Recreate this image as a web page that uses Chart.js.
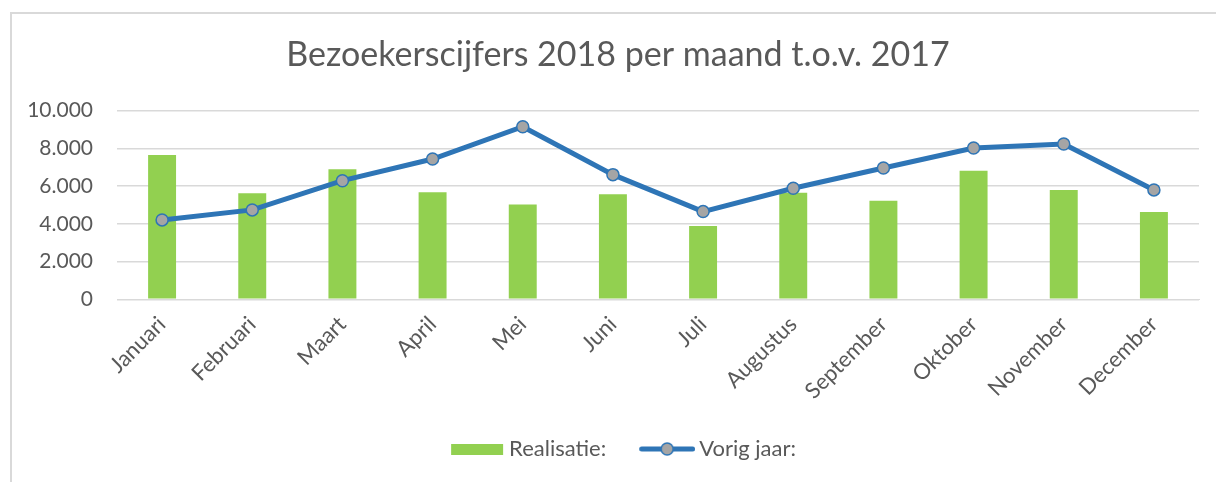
<!DOCTYPE html>
<html>
<head>
<meta charset="utf-8">
<script src="https://cdn.jsdelivr.net/npm/chart.js@4/dist/chart.umd.min.js"></script>
<style>
    html, body { margin: 0; padding: 0; background: #fff; overflow: hidden; }
    #frame { position: absolute; left: 10px; top: 12px; width: 1230px; height: 500px; border: 2px solid #d9d9d9; }
    #myChart { position: absolute; left: 0; top: 0; }
</style>
</head>
<body>
<div id="frame"></div>
<canvas id="myChart" width="1216" height="482"></canvas>
<script>
const maanden = ['Januari', 'Februari', 'Maart', 'April', 'Mei', 'Juni', 'Juli', 'Augustus', 'September', 'Oktober', 'November', 'December'];
const realisatie = [7650, 5620, 6890, 5670, 5020, 5570, 3890, 5650, 5230, 6820, 5800, 4630];
const vorigJaar = [4210, 4740, 6290, 7440, 9150, 6610, 4650, 5890, 6960, 8020, 8230, 5800];

const GREEN = '#92D050';
const BLUE = '#2E75B6';
const GREY = '#A5A5A5';
const TEXT = '#595959';
const FONT = 'Lato';

// Formatteert getallen met punt als duizendtalscheiding
function formatNumber(v) {
    return String(v).replace(/\B(?=(\d{3})+(?!\d))/g, '.');
}

// Legenda-symbolen als kleine canvassen (iets breder dan het vak, zodat de tekst dichterbij staat)
function makeBarSymbol() {
    const c = document.createElement('canvas');
    c.width = 72; c.height = 11;
    const ctx = c.getContext('2d');
    ctx.fillStyle = GREEN;
    ctx.fillRect(18, 0, 52, 11);
    return c;
}

function makeLineSymbol() {
    const c = document.createElement('canvas');
    c.width = 72; c.height = 16;
    const ctx = c.getContext('2d');
    ctx.strokeStyle = BLUE;
    ctx.lineWidth = 5;
    ctx.lineCap = 'round';
    ctx.beginPath();
    ctx.moveTo(18.5, 8);
    ctx.lineTo(69.5, 8);
    ctx.stroke();
    ctx.beginPath();
    ctx.arc(44, 8, 6, 0, Math.PI * 2);
    ctx.fillStyle = GREY;
    ctx.fill();
    ctx.lineWidth = 1.5;
    ctx.stroke();
    return c;
}

const barSymbol = makeBarSymbol();
const lineSymbol = makeLineSymbol();

const ctx = document.getElementById('myChart').getContext('2d');
new Chart(ctx, {
    type: 'bar',
    data: {
        labels: maanden,
        datasets: [
            {
                type: 'bar',
                label: 'Realisatie:',
                data: realisatie,
                backgroundColor: GREEN,
                barPercentage: 0.31,
                categoryPercentage: 1,
                order: 1
            },
            {
                type: 'line',
                label: 'Vorig jaar:',
                data: vorigJaar,
                borderColor: BLUE,
                borderWidth: 5,
                tension: 0,
                pointRadius: 6,
                pointBackgroundColor: GREY,
                pointBorderColor: BLUE,
                pointBorderWidth: 1.5,
                order: 0
            }
        ]
    },
    options: {
        responsive: false,
        animation: false,
        layout: { padding: { left: 20, right: 0, top: 0, bottom: 12 } },
        plugins: {
            tooltip: { enabled: false },
            title: {
                display: true,
                text: 'Bezoekerscijfers 2018 per maand t.o.v. 2017',
                color: TEXT,
                font: { family: FONT, size: 34, weight: 'normal', lineHeight: 1.2 },
                padding: { top: 34.6, bottom: 35.3 }
            },
            legend: {
                position: 'bottom',
                labels: {
                    usePointStyle: true,
                    pointStyleWidth: 58,
                    boxHeight: 16,
                    padding: 24,
                    color: TEXT,
                    font: { family: FONT, size: 22 },
                    generateLabels: () => [
                        { text: 'Realisatie:', pointStyle: barSymbol, fillStyle: GREEN, strokeStyle: GREEN, lineWidth: 0, fontColor: TEXT, datasetIndex: 0 },
                        { text: 'Vorig jaar:', pointStyle: lineSymbol, fillStyle: GREY, strokeStyle: BLUE, lineWidth: 0, fontColor: TEXT, datasetIndex: 1 }
                    ]
                }
            }
        },
        scales: {
            x: {
                grid: { display: false },
                border: { display: true, color: '#d9d9d9', width: 1 },
                ticks: {
                    color: TEXT,
                    font: { family: FONT, size: 22 },
                    maxRotation: 45,
                    minRotation: 45,
                    padding: 4
                },
                afterFit: (scale) => { scale.height = 114.7; }
            },
            y: {
                min: 0,
                max: 10000,
                ticks: {
                    stepSize: 2000,
                    color: TEXT,
                    font: { family: FONT, size: 21 },
                    padding: 24,
                    callback: (v) => formatNumber(v)
                },
                grid: { color: '#d9d9d9', lineWidth: 1.5, drawTicks: false },
                border: { display: false },
                afterFit: (scale) => { scale.width = 97; }
            },
            // lege as rechts, houdt titel en legenda op dezelfde plek als het origineel
            yRight: {
                position: 'right',
                ticks: { display: false },
                grid: { display: false },
                border: { display: false },
                afterFit: (scale) => { scale.width = 17; }
            }
        }
    }
});
</script>
</body>
</html>
